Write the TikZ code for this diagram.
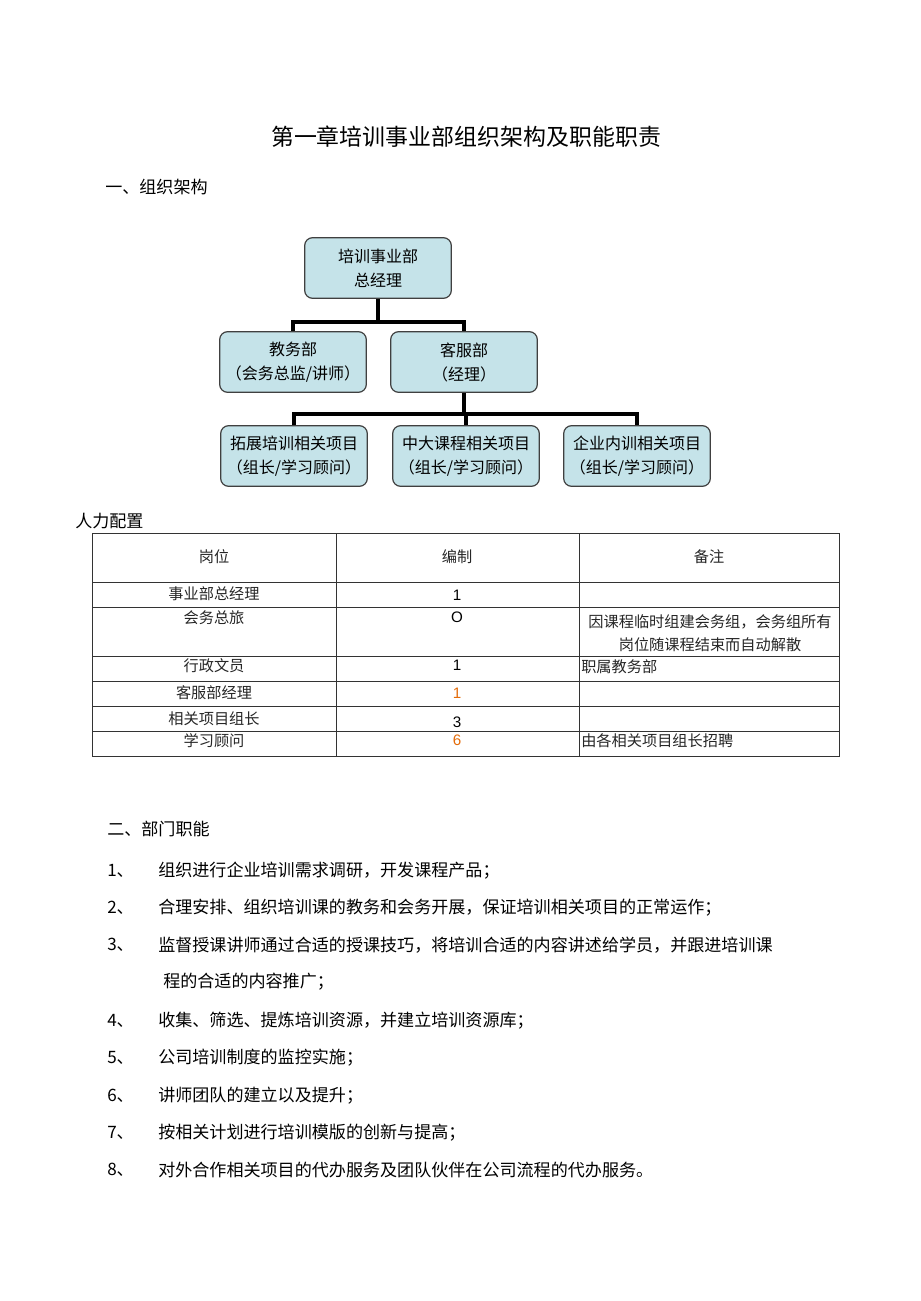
\documentclass[tikz,border=0pt]{standalone}
\usepackage{fontspec}
\setmainfont{Noto Sans CJK SC}
\newfontfamily\arialfont{Liberation Sans}
\definecolor{boxblue}{RGB}{197,227,233}
\definecolor{numorange}{RGB}{228,108,10}

\begin{document}
\begin{tikzpicture}[x=0.75pt, y=-0.75pt,
  unitbox/.style={draw=black!75, line width=0.9pt, fill=boxblue, rounded corners=6pt,
    minimum width=110pt, minimum height=45.5pt, align=center, text=black,
    font=\fontsize{12}{18}\selectfont},
  link/.style={line width=2.5pt, black},
  grid/.style={line width=0.6pt, black!80},
  cell/.style={font=\fontsize{11.4}{17.25}\selectfont, text=black!85, inner sep=0pt},
  num/.style={font=\arialfont\fontsize{11.4}{14}\selectfont, inner sep=0pt},
  item/.style={font=\fontsize{12.8}{16}\selectfont, anchor=west, inner sep=0pt}]
  % Page
  \fill[white] (0,0) rectangle (920,1301);
  \useasboundingbox (0,0) rectangle (920,1301);

  % Headings
  \node[font=\fontsize{17.2}{20}\selectfont, inner sep=0pt] (title) at (466,137) {第一章培训事业部组织架构及职能职责};
  \node[font=\fontsize{12.8}{15}\selectfont, anchor=west, inner sep=0pt] (sec1) at (105,187) {一、组织架构};

  % Org chart
  \node[unitbox] (gm) at (378,268) {培训事业部\\总经理};
  \node[unitbox] (jw) at (293,362) {教务部\\（会务总监/讲师）};
  \node[unitbox] (kf) at (464,362) {客服部\\（经理）};
  \node[unitbox] (tz) at (294,456) {拓展培训相关项目\\（组长/学习顾问）};
  \node[unitbox] (zd) at (466,456) {中大课程相关项目\\（组长/学习顾问）};
  \node[unitbox] (qy) at (637,456) {企业内训相关项目\\（组长/学习顾问）};

  \coordinate (j1) at (378,322);
  \coordinate (j2) at (464,414);
  \draw[link] (gm.south) -- (j1) -| (jw.north);
  \draw[link] (j1) -| (kf.north);
  \draw[link] (kf.south) -- (j2) -| (tz.north);
  \draw[link] (j2) -| (zd.north);
  \draw[link] (j2) -| (qy.north);

  % Staffing table
  \node[font=\fontsize{12.8}{15}\selectfont, anchor=west, inner sep=0pt] (sec2) at (75,521) {人力配置};
  \draw[grid] (92,533) rectangle (839,756);
  \draw[grid] (336,533) -- (336,756);
  \draw[grid] (579,533) -- (579,756);
  \foreach \y in {582,607,656,681,706,731}
    \draw[grid] (92,\y) -- (839,\y);

  \node[cell] (h1) at (214,557) {岗位};
  \node[cell] (h2) at (457,557) {编制};
  \node[cell] (h3) at (709,557) {备注};

  \node[cell] (p1) at (214,594) {事业部总经理};
  \node[num]  (n1) at (457,595) {1};
  \node[cell] (p2) at (214,618) {会务总旅};
  \node[num]  (n2) at (457,617) {O};
  \node[cell, align=center] (r2) at (710,633.5) {因课程临时组建会务组，会务组所有\\岗位随课程结束而自动解散};
  \node[cell] (p3) at (214,666) {行政文员};
  \node[num]  (n3) at (457,665) {1};
  \node[cell, anchor=west] (r3) at (581,667) {职属教务部};
  \node[cell] (p4) at (214,693) {客服部经理};
  \node[num, numorange] (n4) at (457,693) {1};
  \node[cell] (p5) at (214,719) {相关项目组长};
  \node[num]  (n5) at (457,722) {3};
  \node[cell] (p6) at (214,741) {学习顾问};
  \node[num, numorange] (n6) at (457,740) {6};
  \node[cell, anchor=west] (r6) at (581,741) {由各相关项目组长招聘};

  % Department functions
  \node[font=\fontsize{12.8}{15}\selectfont, anchor=west, inner sep=0pt] (sec3) at (107,829) {二、部门职能};
  \foreach \n/\y/\txt in {1/871/组织进行企业培训需求调研，开发课程产品；,
      2/908/合理安排、组织培训课的教务和会务开展，保证培训相关项目的正常运作；,
      3/945/监督授课讲师通过合适的授课技巧，将培训合适的内容讲述给学员，并跟进培训课,
      4/1021/收集、筛选、提炼培训资源，并建立培训资源库；,
      5/1058/公司培训制度的监控实施；,
      6/1096/讲师团队的建立以及提升；,
      7/1133/按相关计划进行培训模版的创新与提高；,
      8/1170/对外合作相关项目的代办服务及团队伙伴在公司流程的代办服务。}{
    \node[item] (no\n) at (107,\y) {\n、};
    \node[item] (tx\n) at (158,\y) {\txt};
  }
  \node[item] (tx3b) at (163,982) {程的合适的内容推广；};
\end{tikzpicture}
\end{document}
